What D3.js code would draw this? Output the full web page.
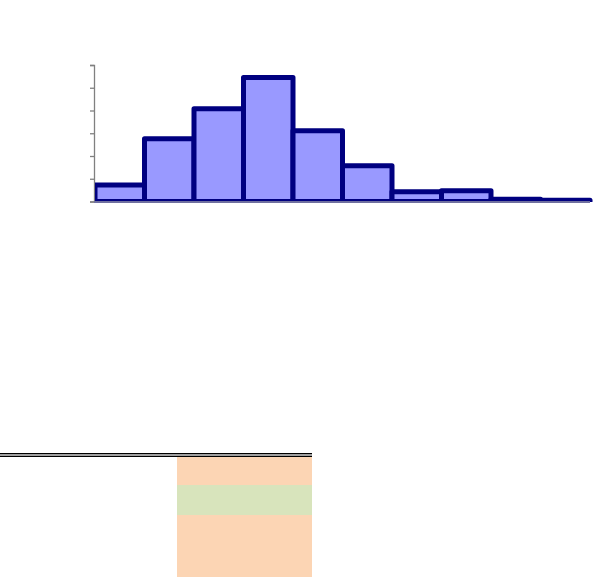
<!DOCTYPE html>
<html><head><meta charset="utf-8">
<script src="https://cdn.jsdelivr.net/npm/d3@7"></script>
<style>body{margin:0;background:#fff}svg{display:block}</style>
</head><body>
<svg id="c" width="613" height="577"></svg>
<script>
const bins = ["1","2","3","4","5","6","7","8","9","10"];
const counts = [7.3, 27.6, 40.8, 54.5, 31.1, 15.7, 4.3, 4.7, 1.0, 0.5];
const yTicks = [0, 10, 20, 30, 40, 50, 60];
const cellBands = ["orange", "green", "orange"];
const cellRows = [1, 1, 3];

const svg = d3.select("#c");
const x = d3.scaleBand().domain(bins).range([95, 590]).padding(0);
const y = d3.scaleLinear().domain([0, 60]).range([201.5, 65]);

svg.append("defs").append("clipPath").attr("id", "plot")
  .append("rect").attr("x", 95).attr("y", 0).attr("width", 520).attr("height", 202);

// y axis
const ya = svg.append("g").attr("transform", "translate(94,0)")
  .call(d3.axisLeft(y).tickValues(yTicks).tickSize(4).tickFormat(""));
ya.selectAll("path,line").attr("stroke", "#808080").attr("stroke-width", 1.3);

// bars
svg.append("g").attr("clip-path", "url(#plot)")
  .selectAll("rect").data(counts).join("rect")
  .attr("x", (d, i) => x(bins[i]))
  .attr("width", x.bandwidth())
  .attr("y", d => y(d))
  .attr("height", d => y(0) - y(d))
  .attr("fill", "#9999ff")
  .attr("stroke", "#000080")
  .attr("stroke-width", 5)
  .attr("stroke-linejoin", "round");

// x axis baseline
svg.append("line").attr("x1", 94).attr("x2", 590)
  .attr("y1", y(0) + 0.5).attr("y2", y(0) + 0.5)
  .attr("stroke", "#7070a0").attr("stroke-width", 2);

// spreadsheet-like cells at the bottom
const cy = d3.scaleLinear().domain([0, 5]).range([455, 605]);
const colors = {orange: "#fcd5b4", green: "#d8e4bc"};
let acc = 0;
cellBands.forEach((b, i) => {
  svg.append("rect").attr("x", 177).attr("width", 135)
    .attr("y", cy(acc)).attr("height", cy(acc + cellRows[i]) - cy(acc))
    .attr("fill", colors[b]);
  acc += cellRows[i];
});
// double border line
svg.append("rect").attr("x", 0).attr("y", 453).attr("width", 312).attr("height", 4).attr("fill", "#a0a0a0");
svg.append("line").attr("x1", 0).attr("x2", 312).attr("y1", 453.5).attr("y2", 453.5).attr("stroke", "#000").attr("stroke-width", 1);
svg.append("line").attr("x1", 0).attr("x2", 312).attr("y1", 456.5).attr("y2", 456.5).attr("stroke", "#000").attr("stroke-width", 1);
</script>
</body></html>
